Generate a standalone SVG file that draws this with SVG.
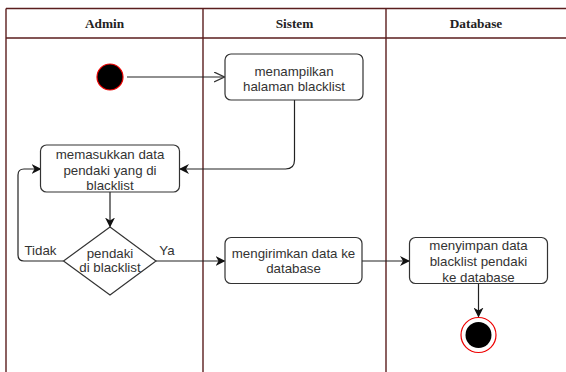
<svg xmlns="http://www.w3.org/2000/svg" width="566" height="372" viewBox="0 0 566 372">
  <style>
    .lane { fill: none; stroke: #5b1e1e; stroke-width: 1.4; }
    .hdr { font-family: "Liberation Serif", "Times New Roman", serif; font-size: 13.3px; font-weight: bold; fill: #222; text-anchor: middle; }
    .act { fill: #fff; stroke: #333; stroke-width: 1.2; }
    .txt { font-family: "Liberation Sans", Arial, sans-serif; font-size: 13.3px; fill: #333; text-anchor: middle; }
    .edge { fill: none; stroke: #222; stroke-width: 1.2; }
  </style>
  <defs>
    <marker id="arrowFilled" viewBox="0 0 10 10" refX="9" refY="5" markerWidth="10" markerHeight="10" markerUnits="userSpaceOnUse" orient="auto">
      <path d="M0,0 L10,5 L0,10 L3,5 Z" fill="#111"/>
    </marker>
    <marker id="arrowOpen" viewBox="0 0 10 10" refX="9.5" refY="5" markerWidth="11" markerHeight="11" markerUnits="userSpaceOnUse" orient="auto">
      <path d="M0,0.5 L9.5,5 L0,9.5" fill="none" stroke="#333" stroke-width="1.2"/>
    </marker>
  </defs>

  <rect width="566" height="372" fill="#fff"/>

  <!-- swimlanes -->
  <g id="lanes">
    <path class="lane" d="M6,8.5 H580 M6,38 H580 M6,8.5 V380 M203,8.5 V380 M386,8.5 V380"/>
    <text class="hdr" x="104.5" y="27.5">Admin</text>
    <text class="hdr" x="294.5" y="27.5">Sistem</text>
    <text class="hdr" x="476" y="27.5">Database</text>
  </g>

  <!-- connectors -->
  <g id="connectors">
    <path class="edge" d="M127,77 H224.5" marker-end="url(#arrowOpen)"/>
    <path class="edge" d="M294.5,100 V160 Q294.5,169 285.5,169 H180" marker-end="url(#arrowFilled)"/>
    <path class="edge" d="M110,192 V226.5" marker-end="url(#arrowFilled)"/>
    <path class="edge" d="M63.5,261 H24 Q18,261 18,255 V175 Q18,169 24,169 H40.5" marker-end="url(#arrowFilled)"/>
    <path class="edge" d="M156,261 H224.5" marker-end="url(#arrowFilled)"/>
    <path class="edge" d="M362,261 H409" marker-end="url(#arrowFilled)"/>
    <path class="edge" d="M478.5,283.5 V316.5" marker-end="url(#arrowFilled)"/>
    <text class="txt" x="40.5" y="254.5">Tidak</text>
    <text class="txt" x="167" y="254.5">Ya</text>
  </g>

  <!-- start -->
  <g id="start">
    <circle cx="110" cy="77" r="13" fill="#000" stroke="#e00" stroke-width="1.2"/>
  </g>

  <g id="tampilkan">
    <rect class="act" x="225" y="54" width="138" height="46" rx="6"/>
    <text class="txt" x="294" y="75.5">menampilkan</text>
    <text class="txt" x="294" y="91">halaman blacklist</text>
  </g>

  <g id="masukkan">
    <rect class="act" x="40.5" y="145" width="139" height="47" rx="6"/>
    <text class="txt" x="110" y="159">memasukkan data</text>
    <text class="txt" x="110" y="174.5">pendaki yang di</text>
    <text class="txt" x="110" y="190">blacklist</text>
  </g>

  <g id="keputusan">
    <path class="act" d="M110,227 L156,261 L110,295 L63.5,261 Z"/>
    <text class="txt" x="110" y="258">pendaki</text>
    <text class="txt" x="110" y="272">di blacklist</text>
  </g>

  <g id="kirim">
    <rect class="act" x="225" y="237.5" width="137" height="46" rx="6"/>
    <text class="txt" x="293.5" y="257.5">mengirimkan data ke</text>
    <text class="txt" x="293.5" y="273">database</text>
  </g>

  <g id="simpan">
    <rect class="act" x="409.5" y="237.5" width="138" height="46" rx="6"/>
    <text class="txt" x="478.5" y="250">menyimpan data</text>
    <text class="txt" x="478.5" y="265.5">blacklist pendaki</text>
    <text class="txt" x="478.5" y="281.5">ke database</text>
  </g>

  <!-- end -->
  <g id="end">
    <circle cx="478.5" cy="335" r="17.5" fill="#fff" stroke="#e00" stroke-width="1.2"/>
    <circle cx="478.5" cy="335" r="13" fill="#000"/>
  </g>
</svg>
